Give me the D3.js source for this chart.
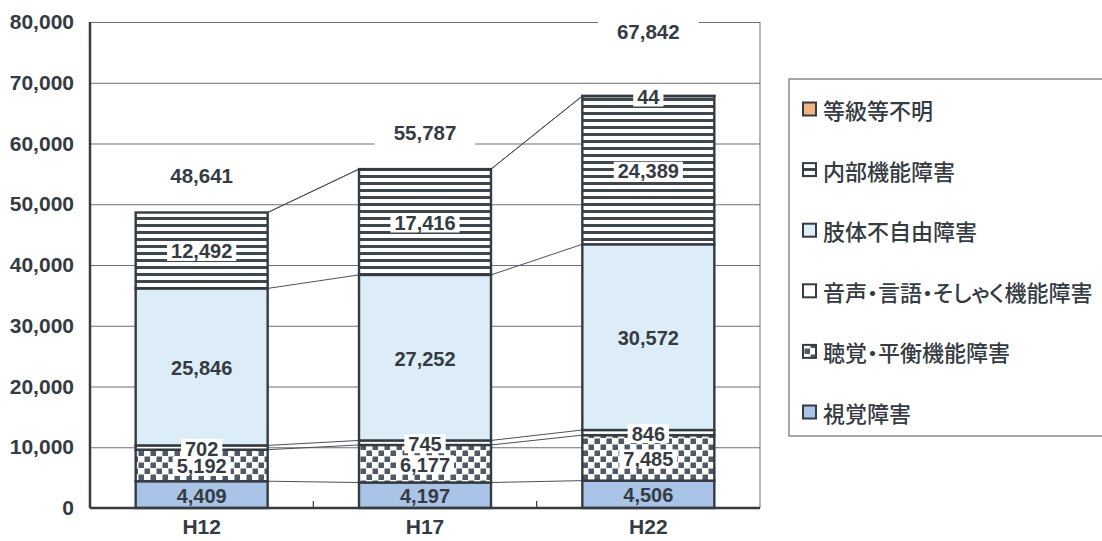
<!DOCTYPE html>
<html><head><meta charset="utf-8">
<script src="https://cdn.jsdelivr.net/npm/d3@7/dist/d3.min.js"></script>
<style>
html,body{margin:0;padding:0;background:#fff;}
svg{display:block;}
.leg{font-feature-settings:"palt";}
</style></head>
<body>
<svg id="chart" width="1102" height="541"></svg>
<script>
// ---- data ----
const categories = ["H12", "H17", "H22"];
const seriesNames = ["視覚障害", "聴覚・平衡機能障害", "音声・言語・そしゃく機能障害", "肢体不自由障害", "内部機能障害", "等級等不明"];
const visual   = [4409, 4197, 4506];
const hearing  = [5192, 6177, 7485];
const speech   = [702, 745, 846];
const limb     = [25846, 27252, 30572];
const internal = [12492, 17416, 24389];
const unknown  = [0, 0, 44];
const totals   = [48641, 55787, 67842];
const yTicks   = [0, 10000, 20000, 30000, 40000, 50000, 60000, 70000, 80000];

const seriesValues = [visual, hearing, speech, limb, internal, unknown];

// ---- styles ----
const fills = ["#a9c4e6", "url(#checker)", "#ffffff", "#dcedf7", "url(#stripes)", "#f4b183"];
const boxedLabel = [false, true, true, false, true, true];
const ink = "#343b42";
const numFont = "'Liberation Sans', Arial, sans-serif";

const svg = d3.select("#chart");
const margin = {left: 90, right: 342, top: 22, bottom: 33};
const W = 1102, H = 541;
const plotW = W - margin.left - margin.right;
const plotH = H - margin.top - margin.bottom;

const x = d3.scaleBand().domain(categories).range([margin.left, margin.left + plotW]).paddingInner(0.409).paddingOuter(0.2045);
const y = d3.scaleLinear().domain([0, 80000]).range([margin.top + plotH, margin.top]);

// patterns
const defs = svg.append("defs");
const ps = defs.append("pattern").attr("id", "stripes").attr("patternUnits", "userSpaceOnUse").attr("width", 8).attr("height", 7);
ps.append("rect").attr("width", 8).attr("height", 7).attr("fill", "#fff");
ps.append("rect").attr("width", 8).attr("height", 3).attr("fill", "#3d4750");
const pc = defs.append("pattern").attr("id", "checker").attr("patternUnits", "userSpaceOnUse").attr("width", 12).attr("height", 12);
pc.append("rect").attr("width", 12).attr("height", 12).attr("fill", "#fff");
pc.append("rect").attr("x", 0.5).attr("y", 0.5).attr("width", 5.5).attr("height", 5.5).attr("fill", "#4f5a64");
pc.append("rect").attr("x", 6.5).attr("y", 6.5).attr("width", 5.5).attr("height", 5.5).attr("fill", "#4f5a64");

// gridlines + y labels
const yAxis = d3.axisLeft(y).tickValues(yTicks).tickSize(-plotW).tickPadding(16).tickFormat(d3.format(","));
const gy = svg.append("g").attr("transform", `translate(${margin.left},0)`).call(yAxis);
gy.select(".domain").remove();
gy.selectAll(".tick line").attr("stroke", "#6a6f74").attr("stroke-width", 1);
gy.selectAll(".tick text").attr("fill", ink).attr("font-family", numFont).attr("font-weight", "bold").attr("font-size", 21);

// right border
svg.append("line").attr("x1", margin.left + plotW).attr("x2", margin.left + plotW)
  .attr("y1", y(80000)).attr("y2", y(0)).attr("stroke", "#6a6f74").attr("stroke-width", 1);

// stack
const rows = categories.map((c, i) => {
  const r = {cat: c};
  seriesNames.forEach((s, j) => r[s] = seriesValues[j][i]);
  return r;
});
const stacked = d3.stack().keys(seriesNames)(rows);

// series lines between bars
const gl = svg.append("g");
stacked.forEach(layer => {
  for (let i = 0; i < categories.length - 1; i++) {
    gl.append("line")
      .attr("x1", x(categories[i]) + x.bandwidth()).attr("y1", y(layer[i][1]))
      .attr("x2", x(categories[i + 1])).attr("y2", y(layer[i + 1][1]))
      .attr("stroke", "#4a5157").attr("stroke-width", 1);
  }
});

// bars
const gb = svg.append("g");
stacked.forEach((layer, j) => {
  layer.forEach((d, i) => {
    if (d[1] - d[0] <= 0) return;
    gb.append("rect")
      .attr("x", x(categories[i])).attr("width", x.bandwidth())
      .attr("y", y(d[1])).attr("height", y(d[0]) - y(d[1]))
      .attr("fill", fills[j]).attr("stroke", ink).attr("stroke-width", 2.4);
  });
});

// axes lines
svg.append("line").attr("x1", margin.left).attr("x2", margin.left + plotW).attr("y1", y(0)).attr("y2", y(0))
  .attr("stroke", ink).attr("stroke-width", 2.5);
svg.append("line").attr("x1", margin.left).attr("x2", margin.left).attr("y1", y(80000)).attr("y2", y(0))
  .attr("stroke", ink).attr("stroke-width", 2.5);
// category tick marks (between categories, inward)
for (let i = 1; i < categories.length; i++) {
  const tx = x(categories[i]) - x.step() * x.paddingInner() / 2;
  svg.append("line").attr("x1", tx).attr("x2", tx).attr("y1", y(0)).attr("y2", y(0) - 7)
    .attr("stroke", ink).attr("stroke-width", 1.2);
}

// category labels
const xAxis = d3.axisBottom(x).tickSize(0).tickPadding(11);
const gx = svg.append("g").attr("transform", `translate(0,${y(0)})`).call(xAxis);
gx.select(".domain").remove();
gx.selectAll(".tick text").attr("fill", ink).attr("font-family", numFont).attr("font-weight", "bold").attr("font-size", 21);

// segment labels
const glab = svg.append("g");
function label(g, cx, cy, txt, boxed, padX, boxH, size) {
  const grp = g.append("g");
  const rect = grp.append("rect").attr("fill", "#fff");
  const t = grp.append("text").attr("x", cx).attr("y", cy).attr("text-anchor", "middle")
    .attr("dominant-baseline", "central").attr("fill", ink)
    .attr("font-family", numFont).attr("font-weight", "bold").attr("font-size", size).text(txt);
  if (boxed) {
    const w = t.node().getComputedTextLength() + padX * 2;
    rect.attr("x", cx - w / 2).attr("y", cy - boxH / 2).attr("width", w).attr("height", boxH);
  } else rect.remove();
}
stacked.forEach((layer, j) => {
  layer.forEach((d, i) => {
    const v = d[1] - d[0];
    if (v <= 0) return;
    const cx = x(categories[i]) + x.bandwidth() / 2;
    const cy = (y(d[0]) + y(d[1])) / 2 + 1;
    label(glab, cx, cy, d3.format(",")(v), boxedLabel[j], 4, 19, 20);
  });
});

// totals
totals.forEach((t, i) => {
  const cx = x(categories[i]) + x.bandwidth() / 2;
  const topSmall = unknown[i] > 0 ? 27 : 0;
  const cy = y(t) - 37 - topSmall;
  label(glab, cx, cy, d3.format(",")(t), true, 19, 30, 20.5);
});

// legend
const lg = svg.append("g");
lg.append("rect").attr("x", 789).attr("y", 79).attr("width", 340).attr("height", 357)
  .attr("fill", "#fff").attr("stroke", "#6a6f74").attr("stroke-width", 1.2);
const legendOrder = seriesNames.map((s, j) => j).reverse();
legendOrder.forEach((j, k) => {
  const cy = 109 + k * 60.6;
  lg.append("rect").attr("x", 803).attr("y", cy - 6.5).attr("width", 13).attr("height", 13)
    .attr("fill", fills[j]).attr("stroke", ink).attr("stroke-width", 2);
  lg.append("text").attr("class", "leg").attr("x", 823).attr("y", cy).attr("dominant-baseline", "central")
    .attr("fill", ink).attr("font-family", "'Noto Sans CJK JP', sans-serif").attr("font-weight", 500)
    .attr("font-size", 22).text(seriesNames[j]);
});
</script>
</body></html>
